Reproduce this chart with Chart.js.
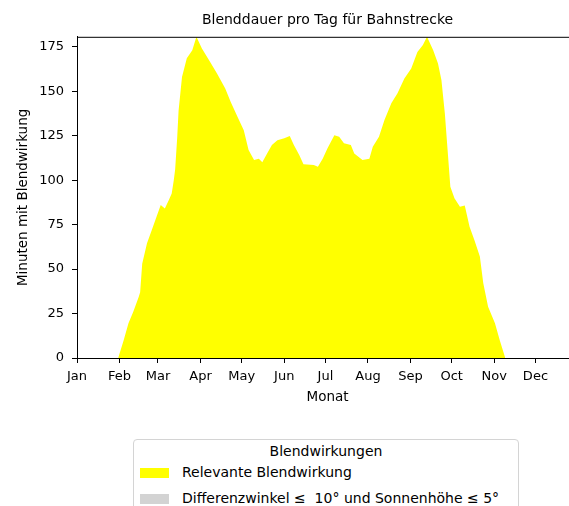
<!DOCTYPE html>
<html>
<head>
<meta charset="utf-8">
<script src="https://cdn.jsdelivr.net/npm/chart.js@4/dist/chart.umd.min.js"></script>
<style>
  html, body { margin: 0; padding: 0; background: #fff; overflow: hidden; }
  body { width: 569px; height: 506px; position: relative; font-family: 'DejaVu Sans', sans-serif; color: #000; }
  #wrap { position: absolute; left: 0; top: 0; width: 578px; height: 412px; }
  #legend { position: absolute; left: 133px; top: 439px; width: 384px; height: 80px;
            border: 1px solid #d4d4d4; border-radius: 4px; background: #fff; }
  #legend .ttl { position: absolute; left: 0; width: 100%; top: 3px; text-align: center; font-size: 14px; }
  #legend .patch { position: absolute; left: 6px; width: 29px; height: 10px; }
  #legend .lbl { position: absolute; left: 48px; font-size: 14px; white-space: pre; }
</style>
</head>
<body>
<div id="wrap"><canvas id="blendChart"></canvas></div>
<div id="legend"></div>
<script>
// Tag im Jahr (0 = 1. Jan) und Minuten mit Blendwirkung
const days = [30, 34, 37.5, 41, 45, 46, 47.5, 51, 54.5, 58, 61, 64, 67, 69, 70.5, 71.5, 73, 74, 76.5, 80,
  84, 87, 91, 97, 102, 108, 112, 117, 121.5, 125, 129, 132.5, 135, 138.5, 142, 146, 151, 155, 158, 162,
  165, 172.5, 175.5, 179, 182.5, 187.5, 191, 194.5, 199.5, 202, 208, 213, 215.5, 220, 224, 229, 233.5, 238.5,
  243.5, 248, 252, 255, 259.5, 263, 265.5, 268, 270, 272, 275, 279, 282.5, 286, 289.5, 293.5, 296, 299.5,
  304.5, 308, 312];
const minutes = [0, 10, 19.5, 26, 34.5, 37, 53, 64.5, 72, 79.5, 86, 84, 89, 92.5, 100, 106, 124, 139, 158, 168.5,
  173, 180.6, 174, 166.5, 160, 151.5, 144, 135.5, 128, 117, 111.3, 112, 110, 115, 119.7, 122.5, 123.5, 124.8, 119.7, 114,
  109, 108.5, 107.5, 112, 118, 125.3, 124.4, 120.7, 119.7, 115, 111.3, 112, 118.8, 124.4, 133.8, 143.2, 148.8, 157.2,
  162.8, 172, 176, 180.6, 173, 165.6, 156.3, 137.5, 117, 96.3, 89.8, 85, 85.8, 73.8, 66.3, 57, 42, 28.8,
  19.5, 10, 0];

const monthStarts = [0, 31, 59, 90, 120, 151, 181, 212, 243, 273, 304, 334];
const monthNames = ['Jan', 'Feb', 'Mar', 'Apr', 'May', 'Jun', 'Jul', 'Aug', 'Sep', 'Oct', 'Nov', 'Dec'];
const yTicks = [0, 25, 50, 75, 100, 125, 150, 175];

const legendItems = [
  { color: '#ffff00', text: 'Relevante Blendwirkung' },
  { color: '#d3d3d3', text: 'Differenzwinkel \u2264  10\u00b0 und Sonnenh\u00f6he \u2264 5\u00b0' }
];

// Legende wie bei matplotlib (unten, mit Rahmen)
const legendEl = document.getElementById('legend');
legendEl.innerHTML = '<div class="ttl">Blendwirkungen</div>';
legendItems.forEach((it, i) => {
  const top = 28 + i * 25.5;
  legendEl.innerHTML += '<div class="patch" style="top:' + top + 'px;background:' + it.color + '"></div>' +
    '<div class="lbl" style="top:' + (top - 4) + 'px">' + it.text + '</div>';
});

Chart.defaults.font.family = 'DejaVu Sans';
Chart.defaults.color = '#000';

// obere Achsenlinie
const topSpine = {
  id: 'topSpine',
  afterDraw(chart) {
    const { ctx, chartArea } = chart;
    ctx.save();
    ctx.strokeStyle = '#000';
    ctx.lineWidth = 1;
    ctx.beginPath();
    ctx.moveTo(chartArea.left, chartArea.top + 0.5);
    ctx.lineTo(chartArea.right, chartArea.top + 0.5);
    ctx.stroke();
    ctx.restore();
  }
};

const ctx = document.getElementById('blendChart').getContext('2d');
const blendChart = new Chart(ctx, {
  type: 'line',
  data: {
    datasets: [{
      label: 'Relevante Blendwirkung',
      data: days.map((d, i) => ({ x: d, y: minutes[i] })),
      backgroundColor: '#ffff00',
      borderColor: '#ffff00',
      borderWidth: 0,
      pointRadius: 0,
      fill: 'origin',
      tension: 0
    }]
  },
  options: {
    responsive: true,
    maintainAspectRatio: false,
    animation: false,
    layout: { padding: 0 },
    plugins: {
      legend: { display: false },
      tooltip: { enabled: false },
      title: {
        display: true,
        fullSize: false,
        text: 'Blenddauer pro Tag für Bahnstrecke',
        font: { size: 14, weight: 'normal' },
        color: '#000',
        padding: { top: 12, bottom: 8 }
      }
    },
    scales: {
      x: {
        type: 'linear',
        min: 0,
        max: 365,
        z: 1,
        afterFit: (scale) => { scale.height = 54; },
        afterBuildTicks: (scale) => { scale.ticks = monthStarts.map(v => ({ value: v })); },
        ticks: {
          autoSkip: false,
          maxRotation: 0,
          padding: 6,
          font: { size: 13 },
          callback: (value) => monthNames[monthStarts.indexOf(value)]
        },
        grid: { display: true, drawOnChartArea: false, drawTicks: true, tickLength: 5, color: '#000' },
        border: { display: true, color: '#000', width: 1 },
        title: { display: true, text: 'Monat', font: { size: 13.5 }, padding: { top: 0, bottom: 6 } }
      },
      y: {
        min: 0,
        max: 180.6,
        z: 1,
        afterFit: (scale) => { scale.width = 77; },
        afterBuildTicks: (scale) => { scale.ticks = yTicks.map(v => ({ value: v })); },
        ticks: { padding: 8, font: { size: 13 } },
        grid: { display: true, drawOnChartArea: false, drawTicks: true, tickLength: 5, color: '#000' },
        border: { display: true, color: '#000', width: 1 },
        title: { display: true, text: 'Minuten mit Blendwirkung', font: { size: 13.5 }, padding: { top: 15, bottom: 0 } }
      }
    }
  },
  plugins: [topSpine]
});
</script>
</body>
</html>
